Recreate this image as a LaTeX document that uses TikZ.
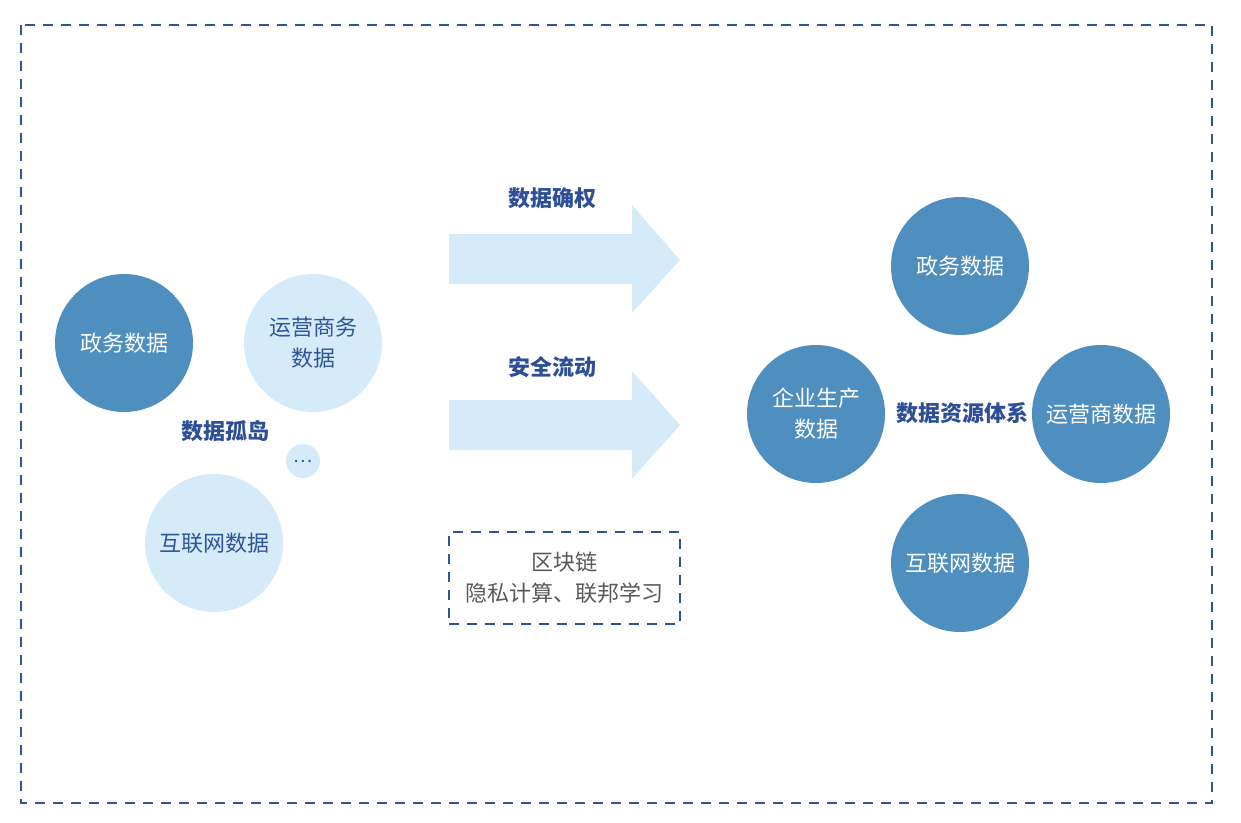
\documentclass[tikz,border=0pt]{standalone}
\usepackage{fontspec}
\setmainfont{Noto Sans CJK SC}
\definecolor{darkc}{HTML}{4F8FBF}
\definecolor{lightc}{HTML}{D6EBFA}
\definecolor{lineblue}{HTML}{2E5597}
\definecolor{labblue}{HTML}{2E4F97}
\definecolor{graytxt}{HTML}{595959}
\begin{document}
\begin{tikzpicture}[x=1pt,y=-1pt,
  darkcirc/.style={circle,fill=darkc,minimum size=138pt,inner sep=0pt,text=white,align=center,font=\fontsize{22}{31}\selectfont},
  lightcirc/.style={circle,fill=lightc,minimum size=138pt,inner sep=0pt,text=lineblue,align=center,font=\fontsize{22}{31}\selectfont},
  boldlab/.style={text=labblue,font=\fontsize{22}{26}\selectfont\bfseries,inner sep=0pt},
  bigarrow/.style={fill=lightc},
  dashbox/.style={draw=lineblue,line width=2pt,dash pattern=on 10pt off 8pt}]
\useasboundingbox (0,0) rectangle (1241,822);
\draw[dashbox] (21,25) rectangle (1212,803);
% left cluster
\node[darkcirc] (lgov) at (124,343) {政务数据};
\node[lightcirc] (lop) at (313,343) {\raisebox{-3pt}{运营商务}\\\raisebox{-3pt}{数据}};
\node[boldlab] (island) at (225,431) {数据孤岛};
\node[circle,fill=lightc,minimum size=34pt,inner sep=0pt,text=lineblue,font=\fontsize{18}{18}\selectfont] (dots) at (303,461) {…};
\node[lightcirc] (lnet) at (214,543) {互联网数据};
% arrows
\fill[bigarrow] (449,234) -- (632,234) -- (632,205) -- (680,260) -- (632,313) -- (632,284) -- (449,284) -- cycle;
\fill[bigarrow] (449,400) -- (632,400) -- (632,371) -- (680,425) -- (632,479) -- (632,450) -- (449,450) -- cycle;
\node[boldlab] (lab1) at (552,198) {数据确权};
\node[boldlab] (lab2) at (552,367) {安全流动};
\node[dashbox,minimum width=231pt,minimum height=92pt,inner sep=0pt,align=center,text=graytxt,font=\fontsize{22}{31}\selectfont] (tech) at (564.5,578) {\raisebox{-2pt}{区块链}\\\raisebox{-2pt}{隐私计算、联邦学习}};
% right cluster
\node[darkcirc] (rgov) at (960,266) {政务数据};
\node[darkcirc] (rent) at (816,414) {企业生产\\数据};
\node[darkcirc] (rop) at (1101,414) {运营商数据};
\node[darkcirc] (rnet) at (960,563) {互联网数据};
\node[boldlab] (sys) at (962,413) {数据资源体系};
\end{tikzpicture}
\end{document}
